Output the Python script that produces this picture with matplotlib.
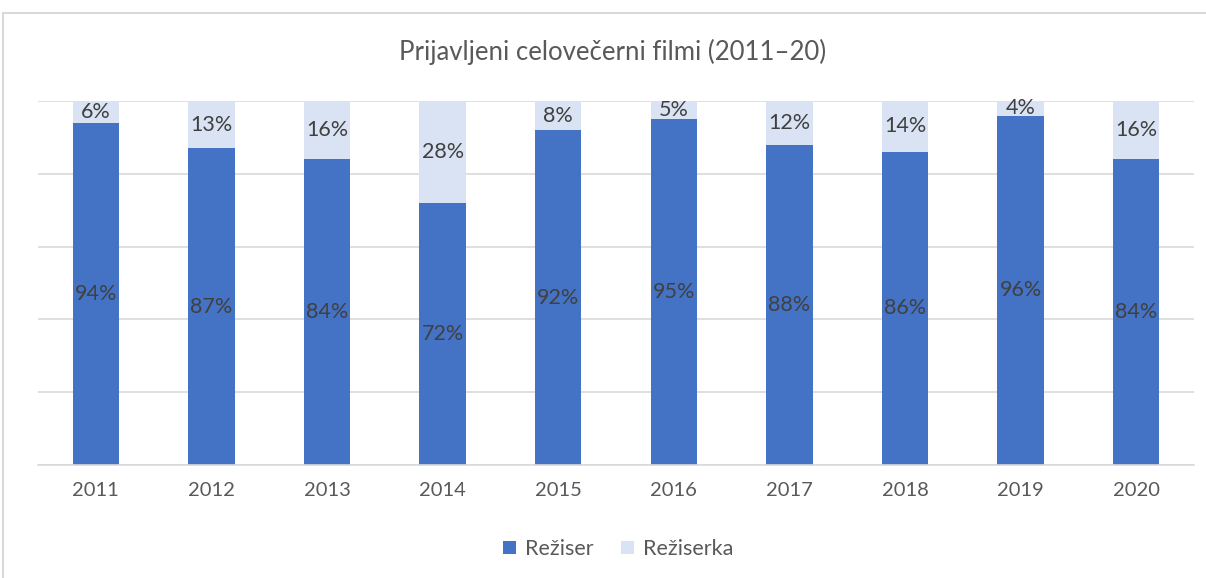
import matplotlib.pyplot as plt
import numpy as np
from matplotlib.patches import Rectangle

years = ['2011', '2012', '2013', '2014', '2015', '2016', '2017', '2018', '2019', '2020']
reziser = [94, 87, 84, 72, 92, 95, 88, 86, 96, 84]
reziserka = [6, 13, 16, 28, 8, 5, 12, 14, 4, 16]

plt.rcParams['font.family'] = ['Lato', 'DejaVu Sans']

fig = plt.figure(figsize=(12.06, 5.78), dpi=100)
ax = fig.add_axes([38 / 1206, (578 - 465) / 578, (1194 - 38) / 1206, 364 / 578])

# outer chart border
fig.patches.append(Rectangle((3 / 1206, -0.1), 1.2, (578 - 13) / 578 + 0.1,
                             transform=fig.transFigure, fill=False,
                             edgecolor='#d9d9d9', linewidth=1.5))

x = np.arange(len(years))
b1 = ax.bar(x, reziser, 0.4, color='#4472C4', label='Režiser', zorder=2)
b2 = ax.bar(x, reziserka, 0.4, bottom=reziser, color='#DAE3F3', label='Režiserka', zorder=2)

for i in range(len(years)):
    ax.text(x[i], reziser[i] / 2, f'{reziser[i]}%', ha='center', va='center',
            fontsize=15.5, color='#404040', zorder=3)
    ax.text(x[i], reziser[i] + reziserka[i] / 2, f'{reziserka[i]}%', ha='center', va='center',
            fontsize=15.5, color='#404040', zorder=3)

ax.set_xlim(-0.5, len(years) - 0.5)
ax.set_ylim(0, 100)
ax.set_yticks([0, 20, 40, 60, 80, 100])
ax.yaxis.grid(True, color='#d9d9d9', linewidth=1.2, zorder=0)
ax.tick_params(axis='y', left=False, labelleft=False)
ax.set_xticks(x)
ax.set_xticklabels(years)
ax.tick_params(axis='x', length=0, pad=12, labelsize=14.5, labelcolor='#595959')
for s in ['top', 'right', 'left']:
    ax.spines[s].set_visible(False)
ax.spines['bottom'].set_color('#d9d9d9')
ax.spines['bottom'].set_linewidth(1.2)

fig.text(613 / 1206, 1 - 52 / 578, 'Prijavljeni celovečerni filmi (2011–20)', ha='center', va='center',
         fontsize=18.5, color='#595959')

fig.legend(handles=[b1, b2], loc='center', bbox_to_anchor=(618 / 1206, 1 - 549 / 578), ncol=2,
           frameon=False, fontsize=15.5, labelcolor='#595959', handlelength=0.6, handleheight=0.6,
           columnspacing=1.3, handletextpad=0.4)

fig.savefig('out.png', dpi=100)
